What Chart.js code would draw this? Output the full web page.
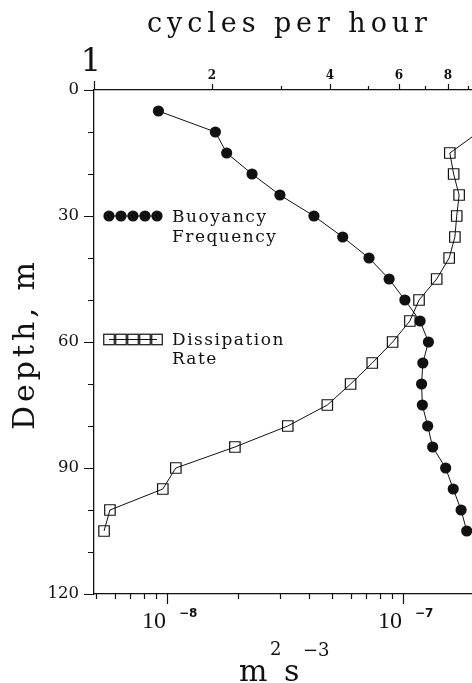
<!DOCTYPE html>
<html>
<head>
<meta charset="utf-8">
<script src="https://cdn.jsdelivr.net/npm/chart.js@4/dist/chart.umd.min.js"></script>
<style>
  html, body { margin: 0; padding: 0; background: #fff; overflow: hidden; }
  #wrap { width: 472px; height: 683px; overflow: hidden; position: relative; }
  canvas { display: block; }
</style>
</head>
<body>
<div id="wrap"><canvas id="c" width="490" height="683"></canvas></div>
<script>
// Buoyancy frequency profile (cycles per hour) against depth (m)
const buoyancyDepth = [5, 10, 15, 20, 25, 30, 35, 40, 45, 50, 55, 60, 65, 70, 75, 80, 85, 90, 95, 100, 105];
const buoyancyCph   = [1.46, 2.04, 2.18, 2.53, 2.98, 3.64, 4.31, 5.03, 5.66, 6.21, 6.79, 7.13, 6.90, 6.85, 6.88, 7.10, 7.31, 7.89, 8.25, 8.64, 8.93];

// Dissipation rate profile (m^2 s^-3) against depth (m)
const dissipationDepth = [10, 15, 20, 25, 30, 35, 40, 45, 50, 55, 60, 65, 70, 75, 80, 85, 90, 95, 100, 105];
const dissipationRate  = [2.10e-7, 1.58e-7, 1.64e-7, 1.73e-7, 1.69e-7, 1.66e-7, 1.57e-7, 1.39e-7, 1.17e-7, 1.07e-7,
                          9.04e-8, 7.41e-8, 6.00e-8, 4.78e-8, 3.25e-8, 1.94e-8, 1.09e-8, 9.6e-9, 5.73e-9, 5.41e-9];

// Axis ticks
const depthTicks     = [0, 30, 60, 90, 120];
const cphTicks       = [1, 2, 3, 4, 5, 6, 7, 8, 9];
const cphTickLabels  = [2, 4, 6, 8];
const rateDecades    = [1e-8, 1e-7];
const rateDecadeExps = ['\u22128', '\u22127'];

const SERIF = '"DejaVu Serif", serif';
Chart.defaults.font.family = SERIF;
Chart.defaults.color = '#111';

function charWidths(ctx, text) {
  let w = 0;
  for (const ch of text) w += ctx.measureText(ch).width;
  return w;
}
function fitSpacing(ctx, text, target) {
  return (target - charWidths(ctx, text)) / (text.length - 1);
}
function drawSpaced(ctx, text, x, y, ls) {
  for (const ch of text) {
    ctx.fillText(ch, x, y);
    x += ctx.measureText(ch).width + ls;
  }
}

const decorations = {
  id: 'decorations',
  afterDraw(chart) {
    const { ctx, chartArea: a, scales } = chart;
    const x = scales.x, x2 = scales.x2, y = scales.y;
    ctx.save();

    // tick marks
    ctx.strokeStyle = '#111';
    ctx.lineWidth = 1.2;
    ctx.beginPath();
    for (let d = 0; d <= 120; d += 10) {
      const py = Math.round(y.getPixelForValue(d)) + 0.5;
      const len = d % 30 === 0 ? 10 : 6;
      ctx.moveTo(a.left, py); ctx.lineTo(a.left - len, py);
    }
    for (const c of cphTicks) {
      const px = Math.round(x2.getPixelForValue(c)) + 0.5;
      const len = c === 1 ? 9 : (c % 2 === 0 ? 6 : 4);
      ctx.moveTo(px, a.top); ctx.lineTo(px, a.top - len);
    }
    for (const base of [1e-9, 1e-8, 1e-7]) {
      for (let m = 1; m <= 9; m++) {
        const v = m * base;
        if (v < x.min * 0.999 || v > x.max * 1.001) continue;
        const px = Math.round(x.getPixelForValue(v)) + 0.5;
        const len = m === 1 ? 10 : 5;
        ctx.moveTo(px, a.bottom); ctx.lineTo(px, a.bottom + len);
      }
    }
    ctx.stroke();

    ctx.fillStyle = '#111';
    ctx.textBaseline = 'alphabetic';

    // big "1" at the start of the cycles-per-hour axis
    ctx.font = '32px ' + SERIF;
    ctx.textAlign = 'center';
    ctx.fillText('1', x2.getPixelForValue(1) - 3, a.top - 19);

    // decade labels of the dissipation axis
    rateDecades.forEach((v, i) => {
      const px = x.getPixelForValue(v);
      ctx.font = '24px "Liberation Serif", serif';
      ctx.textAlign = 'right';
      ctx.fillText('10', px - 1, a.bottom + 34);
      ctx.font = 'bold 12px "DejaVu Sans", sans-serif';
      ctx.textAlign = 'left';
      ctx.fillText(rateDecadeExps[i], px + 12, a.bottom + 23);
    });

    // top title
    ctx.font = '27px ' + SERIF;
    ctx.textAlign = 'left';
    const title = 'cycles per hour';
    const tls = fitSpacing(ctx, title, 280);
    drawSpaced(ctx, title, 147, 32, tls);

    // left title
    ctx.font = '30px ' + SERIF;
    const ytitle = 'Depth, m';
    const yls = fitSpacing(ctx, ytitle, 168);
    ctx.save();
    ctx.translate(34, 430);
    ctx.rotate(-Math.PI / 2);
    drawSpaced(ctx, ytitle, 0, 0, yls);
    ctx.restore();

    // bottom title m^2 s^-3
    const cx = (a.left + a.right) / 2;
    ctx.font = '30px ' + SERIF;
    ctx.fillText('m', cx - 46, 681);
    ctx.fillText('s', cx - 1, 681);
    ctx.font = '18px ' + SERIF;
    ctx.fillText('2', cx - 15, 655);
    ctx.fillText('\u22123', cx + 18, 656);

    // legend
    const ly1 = y.getPixelForValue(30);
    const lx0 = a.left + 15;
    ctx.lineWidth = 1;
    ctx.beginPath();
    ctx.moveTo(lx0, ly1); ctx.lineTo(lx0 + 48, ly1);
    ctx.stroke();
    for (let i = 0; i < 5; i++) {
      ctx.beginPath();
      ctx.arc(lx0 + 12 * i, ly1, 5.6, 0, Math.PI * 2);
      ctx.fill();
    }
    const ly2 = y.getPixelForValue(59.4);
    ctx.beginPath();
    ctx.moveTo(lx0, ly2); ctx.lineTo(lx0 + 48, ly2);
    ctx.stroke();
    ctx.lineWidth = 1.2;
    for (let i = 0; i < 5; i++) {
      ctx.strokeRect(lx0 + 12 * i - 5.25, ly2 - 5.25, 10.5, 10.5);
    }
    ctx.font = '17px ' + SERIF;
    const tx = a.left + 78;
    drawSpaced(ctx, 'Buoyancy', tx, ly1 + 6, 1.5);
    drawSpaced(ctx, 'Frequency', tx, ly1 + 26, 1.5);
    drawSpaced(ctx, 'Dissipation', tx, ly2 + 6, 1.5);
    drawSpaced(ctx, 'Rate', tx, ly2 + 25, 1.5);

    ctx.restore();
  }
};

const axisBorder = { display: true, color: '#111', width: 1.3 };
const noGrid = { display: true, drawOnChartArea: false, drawTicks: false };

new Chart(document.getElementById('c'), {
  type: 'scatter',
  data: {
    datasets: [
      {
        label: 'Buoyancy Frequency',
        xAxisID: 'x2',
        data: buoyancyDepth.map((d, i) => ({ x: buoyancyCph[i], y: d })),
        showLine: true,
        borderColor: '#111',
        borderWidth: 1,
        pointStyle: 'circle',
        pointRadius: 5.6,
        pointBackgroundColor: '#111',
        pointBorderColor: '#111',
        pointBorderWidth: 0
      },
      {
        label: 'Dissipation Rate',
        xAxisID: 'x',
        data: dissipationDepth.map((d, i) => ({ x: dissipationRate[i], y: d })),
        showLine: true,
        borderColor: '#111',
        borderWidth: 1,
        pointStyle: 'rect',
        pointRadius: 7.4,
        pointBackgroundColor: 'rgba(0,0,0,0)',
        pointBorderColor: '#111',
        pointBorderWidth: 1.2
      }
    ]
  },
  options: {
    responsive: false,
    animation: false,
    devicePixelRatio: 1,
    layout: { padding: { left: 0, right: 14, top: 0, bottom: 0 } },
    plugins: { legend: { display: false }, tooltip: { enabled: false } },
    scales: {
      y: {
        type: 'linear',
        position: 'left',
        reverse: true,
        min: 0,
        max: 120,
        afterBuildTicks: s => { s.ticks = depthTicks.map(v => ({ value: v })); },
        ticks: { padding: 15, font: { size: 16.5, family: SERIF }, color: '#111' },
        grid: noGrid,
        border: axisBorder,
        afterFit: s => { s.width = 94; }
      },
      x: {
        type: 'logarithmic',
        position: 'bottom',
        min: 4.905e-9,
        max: 2.04e-7,
        ticks: { display: false },
        grid: noGrid,
        border: axisBorder,
        afterFit: s => { s.height = 89; }
      },
      x2: {
        type: 'logarithmic',
        position: 'top',
        min: 1,
        max: 9.43,
        afterBuildTicks: s => { s.ticks = cphTicks.map(v => ({ value: v })); },
        ticks: {
          autoSkip: false,
          maxRotation: 0,
          padding: 7,
          color: '#111',
          font: { size: 12, weight: 'bold', family: SERIF },
          callback: v => cphTickLabels.includes(v) ? String(v) : ''
        },
        grid: noGrid,
        border: axisBorder,
        afterFit: s => { s.height = 90; }
      }
    }
  },
  plugins: [decorations]
});
</script>
</body>
</html>
